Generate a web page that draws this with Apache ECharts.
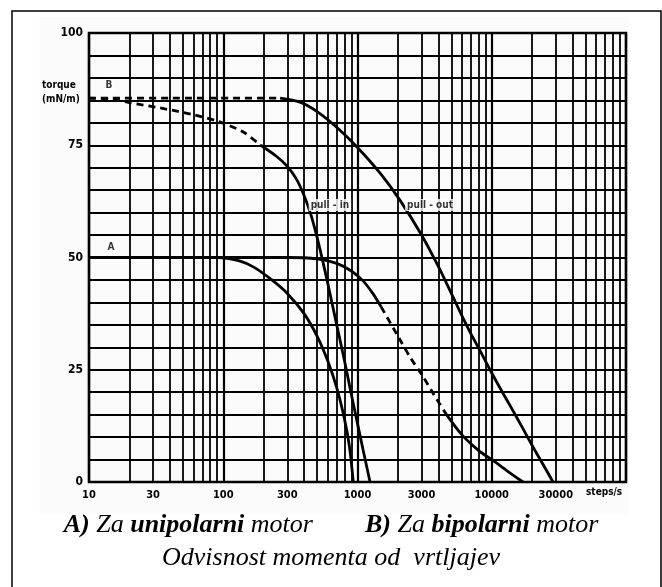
<!DOCTYPE html>
<html>
<head>
<meta charset="utf-8">
<script src="https://cdn.jsdelivr.net/npm/echarts@6/dist/echarts.min.js"></script>
<style>
  html, body { margin: 0; padding: 0; background: #fff; }
  #chart { width: 662px; height: 587px; }
</style>
</head>
<body>
<div id="chart"></div>
<script>
// torque (mN/m) vs steps/s
const xTickLabels = [10, 30, 100, 300, 1000, 3000, 10000, 30000]
const yTickLabels = [0, 25, 50, 75, 100]

// B = bipolar, A = unipolar
const bPullOutDashed = [[10, 85.5], [40, 85.5], [120, 85.5], [265, 85.5]]
const bPullOut = [[265, 85.5], [373, 84.6], [500, 82.5], [700, 79], [1000, 74.5], [1500, 68.5], [2100, 62.5],
  [3000, 55], [4000, 48], [5000, 42], [6000, 37], [7000, 33], [8000, 29.8], [9700, 25], [12000, 20],
  [14000, 16.5], [17000, 12], [20300, 7.8], [24000, 4], [28600, 0]]

const bPullInDashed = [[10, 85.5], [15, 85.2], [20, 84.5], [34, 83.3], [60, 81.8], [94, 80.2], [140, 78], [190, 75]]
const bPullIn = [[190, 75], [250, 72.5], [300, 70.3], [350, 67.5], [400, 63.8], [450, 59.5], [500, 54.5],
  [550, 49.3], [600, 44.3], [700, 35], [800, 27], [900, 19.5], [1000, 13], [1100, 7.2], [1240, 0]]

const aPullOut = [[10, 50], [300, 50], [500, 49.7], [700, 48.7], [900, 47], [1100, 44.8], [1300, 42], [1500, 39]]
const aPullOutDashed = [[1500, 39], [2000, 32.5], [2500, 27.5], [3000, 24], [3700, 19.5], [4600, 15]]
const aPullOutTail = [[4600, 15], [6000, 10.5], [8000, 7], [10200, 4.8], [13000, 2.5], [17100, 0]]

const aPullIn = [[10, 50], [90, 50], [130, 49.3], [170, 47.8], [230, 45], [300, 42], [400, 37.5], [500, 32.5],
  [600, 27], [700, 21], [800, 14], [870, 8], [930, 0]]

// minor log grid lines 2..9 in every decade
const minorX = []
for (const d of [10, 100, 1000, 10000]) {
  for (let m = 2; m <= 9; m++) minorX.push(d * m)
}

const annotations = [
  { name: 'B', value: [14.1, 88.4] },
  { name: 'A', value: [14.6, 52.2] },
  { name: 'pull - in', value: [623, 61.7] },
  { name: 'pull - out', value: [3470, 61.7] },
]

const narrow = "'Liberation Sans Narrow', 'DejaVu Sans Condensed', sans-serif"
const serif = "'Liberation Serif', 'DejaVu Serif', serif"

const chart = echarts.init(document.getElementById('chart'), null, { renderer: 'canvas' })

const curve = (name, data, dashed) => ({
  name,
  type: 'line',
  data,
  smooth: 0.3,
  showSymbol: false,
  silent: true,
  z: 5,
  lineStyle: { color: '#000', width: 2.8, type: dashed ? [7, 5] : 'solid' },
})

chart.setOption({
  backgroundColor: '#fff',
  animation: false,
  grid: { left: 89, top: 33, width: 537, height: 449, show: true, borderColor: '#000', borderWidth: 2.5 },
  xAxis: {
    type: 'log',
    logBase: 10,
    min: 10,
    max: 100000,
    axisLine: { show: false },
    axisTick: { show: false },
    axisLabel: {
      customValues: xTickLabels,
      formatter: (v) => String(Math.round(v)),
      margin: 8,
      color: '#000',
      fontWeight: 'bold',
      fontSize: 11,
      fontFamily: narrow,
    },
    splitLine: { show: true, lineStyle: { color: '#000', width: 2.2 } },
  },
  yAxis: {
    type: 'value',
    min: 0,
    max: 100,
    interval: 25,
    axisLine: { show: false },
    axisTick: { show: false },
    axisLabel: {
      formatter: (v) => (yTickLabels.includes(v) ? String(v) : ''),
      margin: 6,
      color: '#000',
      fontWeight: 'bold',
      fontSize: 12,
      fontFamily: narrow,
    },
    splitLine: { show: true, lineStyle: { color: '#000', width: 2.2 } },
    minorTick: { show: false, splitNumber: 5 },
    minorSplitLine: { show: true, lineStyle: { color: '#000', width: 1.8 } },
  },
  series: [
    {
      name: 'grid',
      type: 'line',
      data: [[10, 0]],
      showSymbol: false,
      silent: true,
      lineStyle: { width: 0 },
      markLine: {
        symbol: 'none',
        silent: true,
        animation: false,
        label: { show: false },
        lineStyle: { color: '#000', width: 1.8, type: 'solid' },
        data: minorX.map((v) => ({ xAxis: v })),
      },
    },
    curve('B pull-out dashed', bPullOutDashed, true),
    curve('B pull-out', bPullOut, false),
    curve('B pull-in dashed', bPullInDashed, true),
    curve('B pull-in', bPullIn, false),
    curve('A pull-out', aPullOut, false),
    curve('A pull-out dashed', aPullOutDashed, true),
    curve('A pull-out tail', aPullOutTail, false),
    curve('A pull-in', aPullIn, false),
    {
      name: 'labels',
      type: 'scatter',
      symbolSize: 0,
      silent: true,
      z: 10,
      data: annotations,
      label: {
        show: true,
        position: 'inside',
        formatter: '{b}',
        color: '#000',
        fontWeight: 'bold',
        fontSize: 10,
        fontFamily: narrow,
        backgroundColor: '#fff',
        padding: [1, 2],
      },
    },
  ],
  graphic: [
    {
      type: 'rect',
      z: -10,
      silent: true,
      shape: { x: 12, y: 11, width: 649, height: 600 },
      style: { fill: '#fff', stroke: '#000', lineWidth: 1.5 },
    },
    {
      type: 'rect',
      z: -9,
      silent: true,
      shape: { x: 39, y: 17, width: 590, height: 497 },
      style: { fill: '#fbfbfb' },
    },
    {
      type: 'text',
      left: 42,
      top: 78,
      z: 20,
      style: {
        text: 'torque\n(mN/m)',
        fill: '#000',
        font: `bold 10px ${narrow}`,
        lineHeight: 14,
        align: 'left',
      },
    },
    {
      type: 'text',
      left: 586,
      top: 487,
      z: 20,
      style: { text: 'steps/s', fill: '#000', font: `bold 10px ${narrow}` },
    },
    {
      type: 'text',
      left: 'center',
      top: 512,
      z: 20,
      style: {
        text: '{b|A)} {i|Za} {b|unipolarni} {i|motor}        {b|B)} {i|Za} {b|bipolarni} {i|motor}',
        rich: {
          b: { font: `italic bold 26px ${serif}`, fill: '#000' },
          i: { font: `italic 26px ${serif}`, fill: '#000' },
        },
        font: `italic 26px ${serif}`,
        fill: '#000',
      },
    },
    {
      type: 'text',
      left: 'center',
      top: 545,
      z: 20,
      style: { text: 'Odvisnost momenta od  vrtljajev', font: `italic 26px ${serif}`, fill: '#000' },
    },
  ],
})
</script>
</body>
</html>
